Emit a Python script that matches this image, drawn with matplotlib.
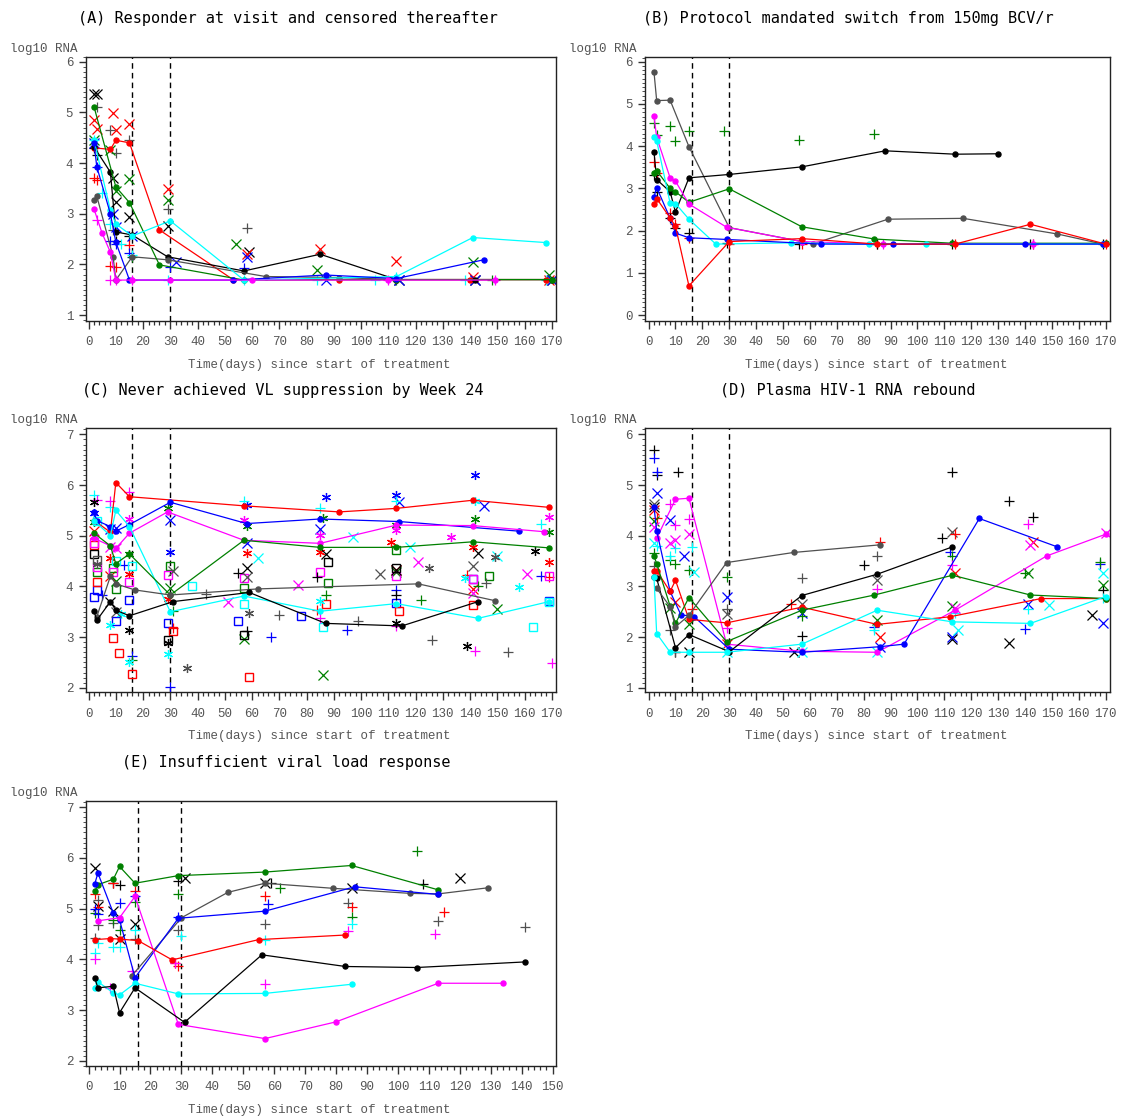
"""Log10 HIV-1 RNA profiles by subject, one panel per response category."""

import matplotlib
matplotlib.use("Agg")
import matplotlib.pyplot as plt
from matplotlib.ticker import MultipleLocator

GREY = "#505050"
GREEN = "#008000"
STAR = (6, 2, 0)

# ---------------------------------------------------------------------------
# Data: (colour, days, log10 RNA) for joined subjects,
#       (colour, marker, days, log10 RNA) for single observations
# ---------------------------------------------------------------------------
A_LINES = [
    ("red", [2, 8, 10, 15, 26, 53, 92, 113, 140, 168], [4.3, 4.27, 4.45, 4.4, 2.68, 1.7, 1.7, 1.7, 1.7, 1.7]),
    ("black", [2, 8, 10, 16, 29, 57, 85, 113, 142, 170], [4.32, 3.82, 2.64, 2.58, 2.15, 1.87, 2.2, 1.7, 1.7, 1.7]),
    (GREY, [2, 3, 9, 10, 16, 29, 65, 92, 113], [3.27, 3.35, 2.15, 1.69, 2.15, 2.09, 1.76, 1.74, 1.7]),
    (GREEN, [2, 10, 15, 26, 57, 113, 170], [5.11, 3.53, 3.22, 1.99, 1.69, 1.7, 1.7]),
    ("cyan", [2, 8, 10, 16, 30, 57, 113, 141, 168], [4.45, 3.07, 2.8, 2.56, 2.86, 1.69, 1.76, 2.53, 2.43]),
    ("blue", [2, 3, 8, 10, 15, 53, 87, 113, 145], [4.39, 3.93, 3.0, 2.44, 1.69, 1.69, 1.79, 1.72, 2.09]),
    ("magenta", [2, 5, 8, 10, 16, 30, 60, 110, 149], [3.09, 2.61, 2.24, 1.69, 1.69, 1.69, 1.69, 1.69, 1.69]),
]
A_MARKS = [
    ("black", "x", [2, 3, 9, 10, 15, 29, 59, 114, 142, 170], [5.37, 5.37, 3.7, 3.24, 2.93, 2.76, 2.25, 1.69, 1.69, 1.69]),
    (GREY, "+", [3, 8, 10, 15, 29, 58, 9], [5.11, 4.65, 4.19, 4.45, 3.09, 2.72, 2.67]),
    ("black", "+", [2, 3, 10, 15], [4.3, 4.16, 2.47, 2.57]),
    ("red", "x", [2, 3, 9, 10, 15, 29, 58, 85, 113, 141, 169], [4.85, 4.68, 4.98, 4.66, 4.78, 3.49, 2.2, 2.3, 2.07, 1.76, 1.69]),
    ("red", "+", [2, 3, 8, 10, 15], [3.7, 3.66, 1.97, 1.94, 2.39]),
    (GREEN, "x", [2, 8, 10, 15, 29, 54, 84, 141, 169], [4.45, 4.26, 3.45, 3.68, 3.27, 2.41, 1.89, 2.04, 1.79]),
    (GREEN, "+", [16, 113, 148], [2.15, 1.69, 1.69]),
    ("blue", "x", [2, 9, 10, 16, 32, 58, 87, 114, 142, 170], [4.39, 3.0, 2.74, 2.56, 2.05, 2.15, 1.69, 1.69, 1.69, 1.69]),
    ("blue", "+", [3, 8, 10, 15, 30, 57], [3.93, 2.47, 2.4, 2.22, 1.95, 1.93]),
    ("cyan", "+", [2, 5, 8, 12, 16, 29, 57, 84, 105, 113, 138, 168], [4.45, 3.41, 2.79, 2.4, 2.18, 1.69, 1.69, 1.69, 1.69, 1.75, 1.69, 1.69]),
    ("magenta", "+", [3, 8, 10, 16, 110, 149], [2.88, 1.69, 1.69, 1.69, 1.69, 1.69]),
]

B_LINES = [
    (GREY, [2, 3, 8, 15, 30, 57, 61, 89, 117, 152, 169], [5.76, 5.08, 5.09, 3.99, 2.07, 1.74, 1.68, 2.27, 2.29, 1.92, 1.68]),
    ("black", [2, 3, 8, 10, 15, 30, 57, 88, 114, 130], [3.87, 3.21, 2.92, 2.44, 3.25, 3.33, 3.51, 3.89, 3.81, 3.82]),
    (GREEN, [2, 3, 8, 10, 15, 30, 57, 84, 113, 170], [3.36, 3.42, 3.0, 2.92, 2.67, 2.99, 2.09, 1.8, 1.7, 1.7]),
    ("magenta", [2, 3, 8, 10, 15, 29, 57, 87, 143], [4.72, 4.21, 3.25, 3.17, 2.63, 2.08, 1.74, 1.68, 1.68]),
    ("cyan", [2, 3, 8, 10, 15, 25, 53, 82, 103, 169], [4.22, 4.13, 2.65, 2.64, 2.27, 1.68, 1.71, 1.68, 1.68, 1.68]),
    ("blue", [2, 3, 8, 10, 15, 29, 64, 91, 140, 169], [2.8, 3.02, 2.29, 1.94, 1.83, 1.79, 1.68, 1.68, 1.68, 1.68]),
    ("red", [2, 3, 8, 10, 15, 30, 57, 85, 114, 142, 170], [2.64, 2.76, 2.3, 2.1, 0.69, 1.74, 1.81, 1.68, 1.68, 2.15, 1.68]),
]
B_MARKS = [
    (GREEN, "+", [2, 3, 8, 10, 15, 28, 56, 84], [4.54, 4.26, 4.48, 4.13, 4.37, 4.36, 4.15, 4.3]),
    ("red", "+", [2, 3, 8, 10, 15, 30, 57, 85, 114, 143, 170], [3.63, 3.36, 2.41, 2.15, 1.82, 1.68, 1.68, 1.68, 1.68, 1.68, 1.68]),
    ("black", "+", [2, 3, 8, 10, 15, 29, 56, 85, 113, 142, 169], [3.32, 2.92, 2.3, 2.07, 1.95, 1.7, 1.68, 1.68, 1.68, 1.68, 1.68]),
    ("magenta", "+", [87, 143], [1.68, 1.68]),
]

C_LINES = [
    ("red", [2, 8, 10, 15, 57, 92, 113, 141, 169], [5.3, 5.07, 6.05, 5.77, 5.59, 5.47, 5.54, 5.7, 5.56]),
    ("blue", [2, 3, 8, 10, 15, 30, 58, 85, 114, 158], [5.47, 5.3, 5.18, 5.09, 5.22, 5.66, 5.24, 5.33, 5.28, 5.09]),
    ("magenta", [2, 8, 10, 15, 29, 57, 85, 113, 141, 167], [4.95, 4.8, 4.75, 5.05, 5.47, 4.91, 4.85, 5.21, 5.2, 5.08]),
    ("cyan", [2, 8, 10, 15, 30, 57, 85, 113, 143, 169], [5.3, 5.0, 5.5, 5.18, 3.5, 3.81, 3.51, 3.66, 3.37, 3.7]),
    (GREEN, [2, 8, 10, 15, 30, 57, 85, 113, 141, 169], [5.05, 4.8, 4.45, 4.64, 3.83, 4.91, 4.77, 4.77, 4.88, 4.76]),
    (GREY, [3, 8, 10, 17, 30, 62, 121, 149], [3.4, 4.2, 4.05, 3.93, 3.83, 3.95, 4.05, 3.72]),
    ("black", [2, 3, 8, 10, 15, 31, 59, 87, 115, 143], [3.51, 3.33, 3.7, 3.53, 3.42, 3.7, 3.88, 3.27, 3.22, 3.7]),
]
C_MARKS = [
    ("blue", STAR, [2, 30, 58, 87, 113, 142], [5.45, 4.68, 5.61, 5.76, 5.8, 6.2]),
    ("blue", "x", [8, 10, 30, 58, 85, 114, 145], [5.14, 5.15, 5.31, 4.85, 5.13, 5.66, 5.59]),
    ("blue", "+", [5, 13, 16, 30, 67, 95, 113, 166], [3.83, 4.42, 2.63, 2.02, 3.0, 3.13, 3.93, 4.21]),
    ("blue", "s", [2, 3, 10, 15, 29, 55, 78, 113, 141, 169], [3.8, 3.93, 3.32, 3.73, 3.27, 3.32, 3.42, 3.68, 4.14, 3.71]),
    ("red", STAR, [8, 15, 29, 58, 85, 111, 141, 169], [4.57, 4.24, 3.75, 4.66, 4.68, 4.87, 4.78, 4.49]),
    ("red", "+", [31, 84, 139, 169], [3.17, 3.53, 4.22, 4.19]),
    ("red", "s", [2, 3, 9, 11, 16, 31, 59, 87, 114, 141], [4.82, 4.09, 2.99, 2.68, 2.27, 3.12, 2.22, 3.66, 3.51, 3.63]),
    ("red", "x", [2, 8, 113, 141], [5.1, 4.2, 4.32, 3.95]),
    (GREEN, STAR, [2, 15, 29, 58, 86, 113, 142, 169], [5.28, 4.64, 5.55, 5.2, 5.34, 5.21, 5.33, 5.07]),
    (GREEN, "x", [10, 30, 57, 86, 113, 150], [4.1, 3.97, 2.97, 2.25, 4.29, 3.55]),
    (GREEN, "+", [16, 31, 87, 122, 143], [2.55, 3.51, 3.83, 3.73, 4.01]),
    (GREEN, "s", [3, 9, 10, 30, 57, 88, 113, 147], [4.29, 4.36, 3.94, 4.41, 3.96, 4.07, 4.72, 4.21]),
    ("cyan", STAR, [8, 12, 15, 29, 85, 138, 142, 158], [3.24, 3.45, 2.51, 2.66, 3.72, 4.16, 5.68, 3.98]),
    ("cyan", "x", [62, 97, 118, 150], [4.57, 4.97, 4.78, 4.59]),
    ("cyan", "+", [2, 8, 57, 85, 113, 166], [5.8, 5.57, 5.68, 5.54, 5.68, 5.23]),
    ("cyan", "s", [3, 10, 16, 38, 57, 86, 163, 169], [5.3, 4.5, 4.4, 4.01, 3.66, 3.2, 3.19, 3.7]),
    ("magenta", STAR, [2, 15, 57, 85, 113, 133, 169], [5.0, 5.33, 5.31, 5.01, 5.11, 4.98, 5.36]),
    ("magenta", "x", [8, 10, 51, 77, 121, 141, 161], [4.78, 4.75, 3.7, 4.02, 4.49, 3.86, 4.24]),
    ("magenta", "+", [3, 8, 15, 85, 113, 142, 170], [5.7, 5.68, 5.86, 3.37, 3.22, 2.72, 2.48]),
    ("magenta", "s", [2, 3, 9, 15, 29, 57, 85, 113, 141, 169], [4.85, 4.39, 4.28, 4.08, 4.22, 4.17, 4.29, 4.21, 4.14, 4.21]),
    ("black", STAR, [2, 15, 29, 113, 139, 164], [5.67, 3.14, 2.88, 3.27, 2.83, 4.7]),
    ("black", "x", [8, 58, 87, 113, 143], [3.7, 4.37, 4.63, 4.32, 4.66]),
    ("black", "+", [55, 58, 84, 113], [4.26, 3.12, 4.19, 3.83]),
    ("black", "s", [2, 29, 57, 88, 113], [4.63, 2.95, 3.05, 4.49, 4.36]),
    (GREY, STAR, [3, 36, 59, 125, 149], [4.45, 2.38, 3.47, 4.37, 4.58]),
    (GREY, "+", [43, 70, 99, 126, 146, 154], [3.85, 3.43, 3.32, 2.94, 4.06, 2.7]),
    (GREY, "x", [10, 31, 58, 107, 141], [3.5, 4.3, 4.19, 4.24, 4.4]),
    (GREY, "s", [3], [4.52]),
]

D_LINES = [
    ("magenta", [3, 10, 15, 29, 57, 85, 114, 148, 170], [3.95, 4.72, 4.74, 1.86, 1.72, 1.7, 2.53, 3.6, 4.03]),
    ("blue", [2, 3, 8, 12, 17, 30, 57, 86, 95, 123, 152], [4.57, 4.1, 2.9, 2.44, 2.4, 1.76, 1.7, 1.81, 1.86, 4.34, 3.78]),
    ("red", [2, 3, 8, 10, 15, 29, 57, 85, 112, 146, 170], [3.31, 3.31, 2.9, 3.12, 2.35, 2.28, 2.59, 2.25, 2.4, 2.76, 2.76]),
    (GREEN, [2, 3, 8, 10, 15, 29, 57, 84, 113, 142, 170], [3.6, 3.45, 2.61, 2.27, 2.78, 1.91, 2.53, 2.83, 3.22, 2.83, 2.76]),
    ("black", [2, 3, 10, 15, 30, 57, 85, 113], [3.19, 3.16, 1.79, 2.05, 1.71, 2.82, 3.24, 3.78]),
    (GREY, [3, 8, 10, 15, 29, 54, 86], [2.96, 2.6, 2.2, 2.43, 3.47, 3.67, 3.82]),
    ("cyan", [2, 3, 8, 15, 29, 57, 85, 113, 142, 170], [3.18, 2.07, 1.7, 1.7, 1.7, 1.86, 2.53, 2.3, 2.27, 2.8]),
]
D_MARKS = [
    ("black", "+", [2, 3, 11, 10, 57, 80, 109, 113, 134, 143, 169], [5.7, 5.2, 5.26, 1.7, 2.03, 3.42, 3.95, 5.26, 4.68, 4.36, 2.92]),
    ("blue", "+", [2, 3, 84, 112, 140, 168], [5.53, 5.26, 2.2, 3.68, 2.16, 3.45]),
    ("black", "x", [2, 15, 54, 113, 134, 165], [4.57, 1.7, 1.7, 1.96, 1.89, 2.43]),
    (GREY, "x", [2, 29, 57, 85, 113], [4.62, 2.45, 2.65, 3.12, 4.08]),
    ("blue", "x", [3, 8, 13, 29, 57, 86, 113, 141, 169], [4.84, 4.32, 3.59, 2.79, 2.47, 1.81, 2.0, 2.66, 2.27]),
    ("red", "+", [3, 16, 53, 86, 114], [4.35, 2.56, 2.66, 3.88, 4.03]),
    ("red", "x", [2, 10, 29, 86, 114, 143], [4.5, 2.7, 1.86, 2.0, 3.26, 3.88]),
    (GREEN, "+", [2, 8, 10, 15, 29, 57, 113, 140, 168], [3.65, 3.52, 3.45, 3.32, 3.19, 2.42, 3.6, 3.26, 3.49]),
    (GREEN, "x", [2, 8, 15, 85, 113, 141, 169], [4.3, 2.57, 2.25, 2.33, 2.61, 3.26, 3.03]),
    ("cyan", "+", [3, 8, 10, 16, 84, 114, 141, 169], [3.8, 3.59, 3.75, 3.78, 2.14, 2.47, 2.56, 2.78]),
    ("cyan", "x", [2, 17, 29, 57, 85, 115, 149, 169], [3.85, 3.29, 1.7, 1.7, 1.7, 2.14, 2.64, 3.26]),
    ("magenta", "+", [8, 10, 15, 29, 85, 113, 141], [4.62, 4.22, 4.33, 2.17, 2.95, 3.42, 4.24]),
    ("magenta", "x", [2, 8, 10, 15, 114, 142, 170], [4.18, 3.85, 3.91, 4.03, 2.57, 3.82, 4.05]),
    (GREY, "+", [2, 8, 10, 29, 57, 85], [3.4, 2.14, 1.7, 2.55, 3.17, 3.59]),
]

E_LINES = [
    (GREEN, [2, 3, 8, 10, 15, 29, 57, 85, 113], [5.34, 5.47, 5.58, 5.83, 5.5, 5.65, 5.72, 5.85, 5.37]),
    (GREY, [14, 30, 45, 57, 79, 104, 113, 129], [3.68, 4.82, 5.32, 5.5, 5.4, 5.3, 5.29, 5.41]),
    ("blue", [2, 3, 8, 10, 15, 29, 57, 86, 113], [5.49, 5.7, 4.91, 4.78, 3.64, 4.81, 4.95, 5.43, 5.28]),
    ("magenta", [3, 10, 15, 29, 57, 80, 113, 134], [4.76, 4.82, 5.24, 2.72, 2.44, 2.77, 3.53, 3.53]),
    ("red", [2, 7, 10, 16, 27, 55, 83], [4.39, 4.41, 4.4, 4.37, 3.99, 4.39, 4.48]),
    ("cyan", [2, 3, 8, 10, 15, 29, 57, 85], [3.44, 3.56, 3.34, 3.3, 3.53, 3.32, 3.33, 3.51]),
    ("black", [2, 3, 8, 10, 15, 31, 56, 83, 106, 141], [3.63, 3.44, 3.47, 2.95, 3.44, 2.76, 4.09, 3.86, 3.84, 3.95]),
]
E_MARKS = [
    ("black", "x", [2, 3, 8, 10, 15, 31, 57, 85, 120], [5.81, 5.05, 4.95, 4.41, 4.7, 5.6, 5.5, 5.41, 5.6]),
    ("black", "+", [8, 10, 29, 59, 108], [5.5, 5.47, 5.55, 5.51, 5.48]),
    (GREY, "+", [2, 3, 3, 8, 15, 29, 57, 84, 113, 141], [4.43, 5.17, 4.68, 4.71, 4.41, 4.58, 4.7, 5.12, 4.76, 4.63]),
    ("red", "+", [2, 3, 8, 15, 28, 29, 57, 85, 115], [5.28, 5.04, 5.51, 5.34, 3.92, 3.87, 5.24, 5.04, 4.94]),
    (GREEN, "+", [2, 8, 10, 15, 29, 62, 85, 106], [4.92, 4.78, 4.58, 5.14, 5.29, 5.41, 4.84, 6.13]),
    ("blue", "+", [2, 3, 10, 15, 29, 58], [4.99, 4.89, 5.11, 5.25, 4.83, 5.09]),
    ("cyan", "+", [2, 3, 8, 10, 15, 30, 57, 85], [4.12, 4.32, 4.25, 4.25, 4.58, 4.46, 4.38, 4.7]),
    ("magenta", "+", [2, 7, 14, 28, 57, 84, 112], [4.01, 3.43, 3.78, 3.92, 3.51, 4.56, 4.51]),
]

TITLES = [
    "(A) Responder at visit and censored thereafter",
    "(B) Protocol mandated switch from 150mg BCV/r",
    "(C) Never achieved VL suppression by Week 24",
    "(D) Plasma HIV-1 RNA rebound",
    "(E) Insufficient viral load response",
]
WINDOW_DAYS = [16, 30]

# ---------------------------------------------------------------------------
# Plot
# ---------------------------------------------------------------------------
W, H = 1126, 1118
MONO = "Liberation Mono"
TITLE_FONT = "DejaVu Sans Mono"
TICK_TXT = "#555555"

plt.rcParams["font.family"] = MONO


def frac_rect(left, top, right, bottom):
    return [left / W, 1 - bottom / H, (right - left) / W, (bottom - top) / H]


def draw_panel(fig, rect, title, title_x, title_y, lines, marks,
               xlim, ylim, xmax, yticks, xlab_x):
    ax = fig.add_axes(rect)
    for col, mk, days, rna in marks:
        if mk == "s":
            ax.plot(days, rna, ls="none", marker="s", ms=6, mfc="none",
                    mec=col, mew=1.0, zorder=2)
        else:
            ax.plot(days, rna, ls="none", marker=mk, ms=6.5, color=col,
                    mew=0.9, zorder=2)
    for col, days, rna in lines:
        ax.plot(days, rna, color=col, lw=0.9, marker="o", ms=3.6,
                mec=col, mfc=col, zorder=3)
    for d in WINDOW_DAYS:
        ax.axvline(d, color="black", lw=1.0, ls=(0, (4, 3)), zorder=1)

    ax.set_xlim(*xlim)
    ax.set_ylim(*ylim)
    ax.set_xticks(range(0, xmax + 1, 10))
    ax.xaxis.set_minor_locator(MultipleLocator(2))
    ax.set_yticks(yticks)
    ax.yaxis.set_minor_locator(MultipleLocator(0.1))
    ax.tick_params(which="both", direction="out", color="#333333",
                   labelcolor=TICK_TXT, labelsize=9)
    ax.tick_params(axis="x", which="major", length=6, width=1.0, pad=5)
    ax.tick_params(axis="x", which="minor", length=3, width=0.9)
    ax.tick_params(axis="y", which="major", length=5, width=1.0, pad=4)
    ax.tick_params(axis="y", which="minor", length=2.5, width=0.6)
    for s in ax.spines.values():
        s.set_color("#222222")
        s.set_linewidth(1.0)

    pos = ax.get_position()
    left_px = pos.x0 * W
    top_px = (1 - pos.y1) * H
    bottom_px = (1 - pos.y0) * H
    fig.text(title_x / W, 1 - title_y / H, title, ha="center", va="center",
             fontsize=11, family=TITLE_FONT, color="black")
    fig.text((left_px - 76) / W, 1 - (top_px - 8) / H, "log10 RNA",
             ha="left", va="center", fontsize=9, color=TICK_TXT)
    fig.text(xlab_x / W, 1 - (bottom_px + 44) / H,
             "Time(days) since start of treatment",
             ha="center", va="center", fontsize=9, color=TICK_TXT)
    return ax


def main():
    fig = plt.figure(figsize=(W / 100, H / 100), dpi=100)
    fig.patch.set_facecolor("white")

    draw_panel(fig, frac_rect(85.7, 56.7, 556.4, 320.7), TITLES[0], 288, 18,
               A_LINES, A_MARKS, (-1.06, 171.7), (0.888, 6.1), 170,
               range(1, 7), 319)
    draw_panel(fig, frac_rect(645, 56.7, 1110, 320.7), TITLES[1], 848, 18,
               B_LINES, B_MARKS, (-1.34, 171.6), (-0.135, 6.12), 170,
               range(0, 7), 876)
    draw_panel(fig, frac_rect(85.7, 428.3, 556.4, 692.3), TITLES[2], 283, 390,
               C_LINES, C_MARKS, (-1.06, 171.7), (1.91, 7.12), 170,
               range(2, 8), 319)
    draw_panel(fig, frac_rect(645, 428.3, 1110, 692.3), TITLES[3], 848, 390,
               D_LINES, D_MARKS, (-1.34, 171.6), (0.91, 6.12), 170,
               range(1, 7), 876)
    draw_panel(fig, frac_rect(85.7, 801, 556.4, 1066), TITLES[4], 286, 763,
               E_LINES, E_MARKS, (-0.94, 151.2), (1.9, 7.12), 150,
               range(2, 8), 319)

    fig.savefig("out.png", dpi=100, facecolor="white")
    plt.close(fig)


if __name__ == "__main__":
    main()
